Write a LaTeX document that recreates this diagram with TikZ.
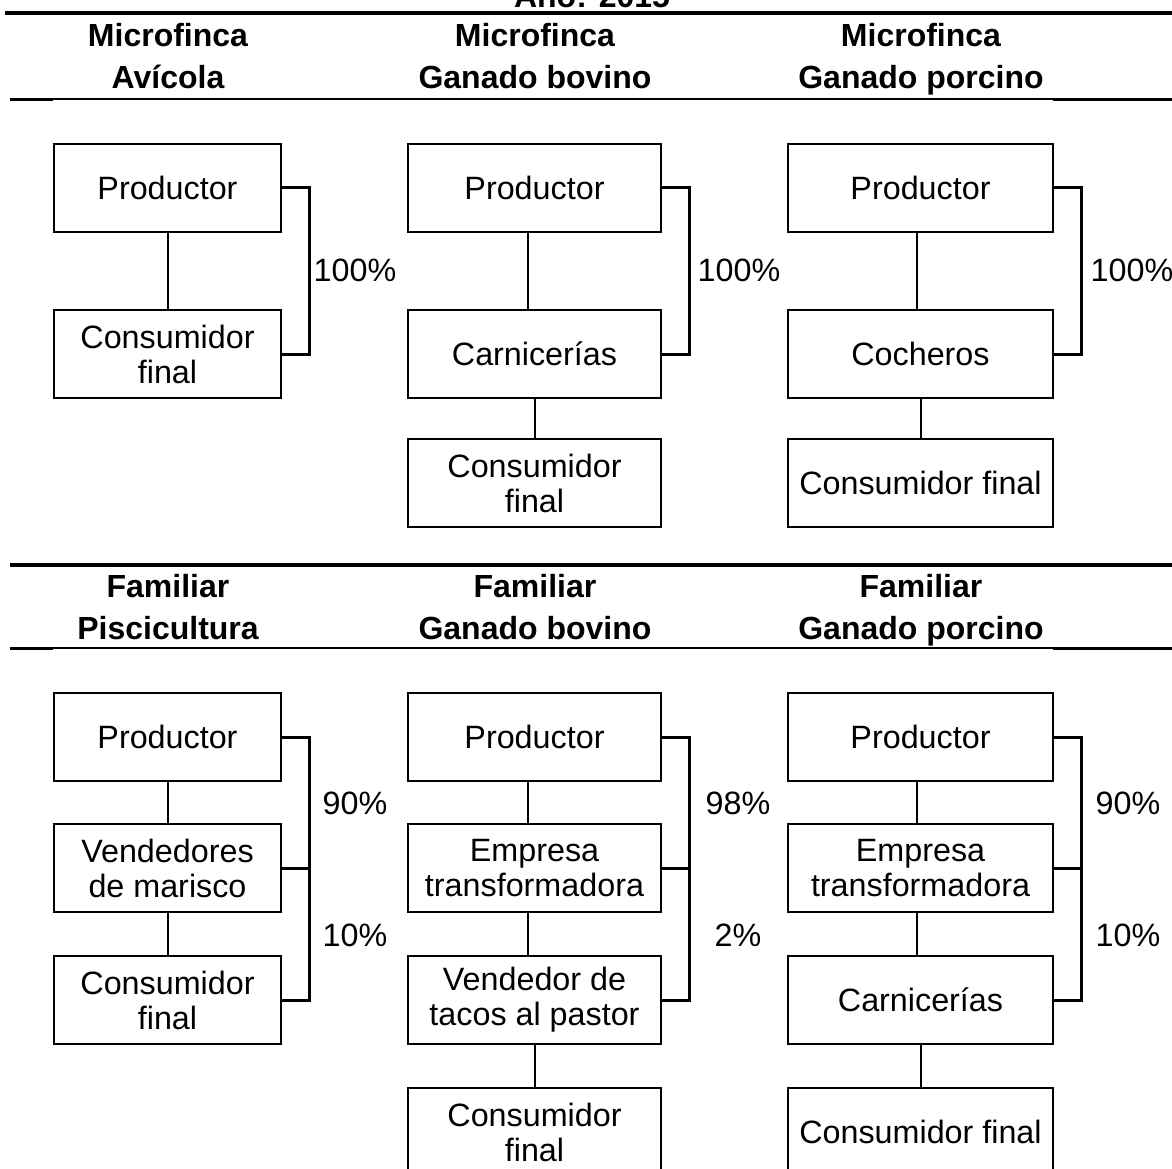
\documentclass[tikz,border=0pt]{standalone}
\usepackage{fontspec}
\setmainfont{Liberation Sans}
\usetikzlibrary{positioning}

\newcommand{\textocaja}{\fontsize{32.3}{35}\selectfont}
\newcommand{\textotitulo}{\fontsize{32}{42}\selectfont\bfseries}

\begin{document}
\begin{tikzpicture}[x=1pt,y=-1pt,
    caja/.style={draw, line width=2pt, inner sep=0pt, minimum height=88pt, align=center, font=\textocaja},
    cajaA/.style={caja, minimum width=227pt},
    cajaB/.style={caja, minimum width=253pt},
    cajaC/.style={caja, minimum width=265pt},
    enlace/.style={line width=2pt},
    llave/.style={line width=3pt},
    titulo/.style={align=center, font=\textotitulo, inner sep=0pt},
    pct/.style={font=\textocaja, inner sep=0pt}]
        \useasboundingbox (0,0) rectangle (1172,1168);
        % Rules of the table
        \draw[line width=3.5pt] (5,13) -- (1172,13);
        \draw[line width=3.5pt] (10,565) -- (1172,565);
        \foreach \y in {99,648} {
            \draw[line width=3pt] (10,\y) -- (53,\y);
            \draw[line width=2pt] (53,\y) -- (1053,\y);
            \draw[line width=3pt] (1053,\y) -- (1172,\y);
        }
        % Title, only its lower part is on the page
        \node[titulo, anchor=base] (anio) at (592,7) {Año: 2015};
        % Column headers (base = last line)
        \foreach \x/\a/\b [count=\i] in {168/Microfinca/Avícola, 535/Microfinca/Ganado bovino, 921/Microfinca/Ganado porcino} {
            \node[titulo, anchor=base] (hm\i) at (\x,88) {\a\\\b};
        }
        \foreach \x/\a/\b [count=\i] in {168/Familiar/Piscicultura, 535/Familiar/Ganado bovino, 921/Familiar/Ganado porcino} {
            \node[titulo, anchor=base] (hf\i) at (\x,639) {\a\\\b};
        }

        % Microfinca avicola
        \node[cajaA] (ap) at (167.5,187.5) {Productor};
        \node[cajaA] (ac) at (167.5,354) {Consumidor\\final};
        \draw[enlace] (ap) -- (ac);
        \draw[llave] (ap.east) -- ++(27,0) |- (ac.east);
        \node[pct] (apct) at (355,270) {100\%};

        % Microfinca ganado bovino
        \node[cajaB] (bp) at (534.5,187.5) {Productor};
        \node[cajaB] (bc) at (534.5,354) {Carnicerías};
        \node[cajaB] (bf) at (534.5,483) {Consumidor\\final};
        \draw[enlace] ([xshift=-7pt]bp.south) -- ([xshift=-7pt]bc.north);
        \draw[enlace] (bc) -- (bf);
        \draw[llave] (bp.east) -- ++(27,0) |- (bc.east);
        \node[pct] (bpct) at (739,270) {100\%};

        % Microfinca ganado porcino
        \node[cajaC] (cp) at (920.5,187.5) {Productor};
        \node[cajaC] (cc) at (920.5,354) {Cocheros};
        \node[cajaC] (cf) at (920.5,483) {Consumidor final};
        \draw[enlace] ([xshift=-4pt]cp.south) -- ([xshift=-4pt]cc.north);
        \draw[enlace] (cc) -- (cf);
        \draw[llave] (cp.east) -- ++(27,0) |- (cc.east);
        \node[pct] (cpct) at (1132,270) {100\%};

        % Familiar piscicultura
        \node[cajaA] (dp) at (167.5,737) {Productor};
        \node[cajaA] (dv) at (167.5,868) {Vendedores\\de marisco};
        \node[cajaA] (dc) at (167.5,1000) {Consumidor\\final};
        \draw[enlace] (dp) -- (dv);
        \draw[enlace] (dv) -- (dc);
        \draw[llave] (dp.east) -- ++(27,0) |- (dc.east);
        \draw[llave] (dv.east) -- ++(27,0);
        \node[pct] (dpct1) at (355,803) {90\%};
        \node[pct] (dpct2) at (355,935) {10\%};

        % Familiar ganado bovino
        \node[cajaB] (ep) at (534.5,737) {Productor};
        \node[cajaB] (ee) at (534.5,868) {Empresa\\transformadora};
        \node[cajaB] (ev) at (534.5,1000) {Vendedor de\\tacos al pastor};
        \node[cajaB] (ef) at (534.5,1132) {Consumidor\\final};
        \draw[enlace] ([xshift=-7pt]ep.south) -- ([xshift=-7pt]ee.north);
        \draw[enlace] ([xshift=-7pt]ee.south) -- ([xshift=-7pt]ev.north);
        \draw[enlace] (ev) -- (ef);
        \draw[llave] (ep.east) -- ++(27,0) |- (ev.east);
        \draw[llave] (ee.east) -- ++(27,0);
        \node[pct] (epct1) at (738,803) {98\%};
        \node[pct] (epct2) at (738,935) {2\%};

        % Familiar ganado porcino
        \node[cajaC] (fp) at (920.5,737) {Productor};
        \node[cajaC] (fe) at (920.5,868) {Empresa\\transformadora};
        \node[cajaC] (fc) at (920.5,1000) {Carnicerías};
        \node[cajaC] (ff) at (920.5,1132) {Consumidor final};
        \draw[enlace] ([xshift=-4pt]fp.south) -- ([xshift=-4pt]fe.north);
        \draw[enlace] ([xshift=-4pt]fe.south) -- ([xshift=-4pt]fc.north);
        \draw[enlace] (fc) -- (ff);
        \draw[llave] (fp.east) -- ++(27,0) |- (fc.east);
        \draw[llave] (fe.east) -- ++(27,0);
        \node[pct] (fpct1) at (1128,803) {90\%};
        \node[pct] (fpct2) at (1128,935) {10\%};
\end{tikzpicture}
\end{document}
